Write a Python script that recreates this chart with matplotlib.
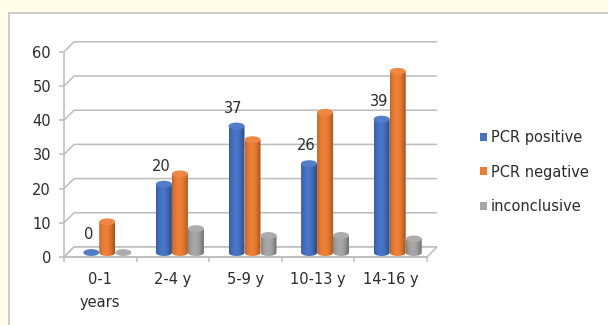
import matplotlib
matplotlib.use("Agg")
import matplotlib.pyplot as plt
import numpy as np
from matplotlib.patches import Ellipse, Patch, PathPatch, Polygon, Rectangle
from matplotlib.path import Path
from matplotlib.colors import to_rgb

categories = ["0-1\nyears", "2-4 y", "5-9 y", "10-13 y", "14-16 y"]
series_names = ["PCR positive", "PCR negative", "inconclusive"]
pcr_positive = [0, 20, 37, 26, 39]
pcr_negative = [9, 23, 33, 41, 53]
inconclusive = [0, 7, 5, 5, 4]
y_ticks = [0, 10, 20, 30, 40, 50, 60]

colors = ["#4472c4", "#ed7d31", "#a5a5a5"]
grid_col = "#bcbcbc"
text_col = "#2b2b2b"
FS = 10.5

W, H = 608, 325
plt.rcParams["font.family"] = ["DejaVu Sans"]
fig = plt.figure(figsize=(W / 100, H / 100), dpi=100, facecolor="#fffce8")

# white chart panel
fig.patches.append(Rectangle((9 / W, -0.1), 1.2, 1.1 - 13 / H,
                             transform=fig.transFigure, facecolor="white",
                             edgecolor="#c4c4c4", lw=1.2, zorder=-5))

# axes: front floor edge = x axis, front left edge = y axis
ax = fig.add_axes([64 / W, (H - 257) / H, (427 - 64) / W, (257 - 51.8) / H])
ax.set_zorder(1)
ax.patch.set_visible(False)
n = len(categories)

# depth offset (back wall) in data units
dx, dy = 10 / 72.6, 10 / 3.42

# back wall gridlines + side slant
for v in y_ticks:
    ax.plot([0, dx, n + dx], [v, v + dy, v + dy], color=grid_col, lw=1.1,
            clip_on=False, zorder=1, solid_capstyle="butt")

# floor
floor = Polygon([(0, 0), (n, 0), (n + dx, dy), (dx, dy)], closed=True,
                facecolor="white", edgecolor=grid_col, lw=1.1, clip_on=False, zorder=1)
ax.add_patch(floor)

for s in ["top", "right"]:
    ax.spines[s].set_visible(False)
for s in ["left", "bottom"]:
    ax.spines[s].set_color(grid_col)
    ax.spines[s].set_linewidth(1.1)

ax.set_yticks(y_ticks)
ax.tick_params(axis="y", length=3.6, width=1.1, color=grid_col, pad=5.8,
               labelsize=FS, labelcolor=text_col)
ax.set_xticks(np.arange(n + 1))
ax.set_xticklabels([])
ax.set_xticks(np.arange(n) + 0.5, minor=True)
ax.set_xticklabels(categories, minor=True, linespacing=1.65)
ax.tick_params(axis="x", which="major", length=3.6, width=1.1, color=grid_col)
ax.tick_params(axis="x", which="minor", length=0, pad=11, labelsize=FS,
               labelcolor=text_col)


def shade(color, t):
    base = np.array(to_rgb(color))
    f = 0.8 + 0.28 * np.sin(np.pi * np.clip(t * 1.05, 0, 1)) ** 0.8
    f = f - 0.12 * t
    out = np.empty((1, len(t), 3))
    for i, fi in enumerate(f):
        if fi <= 1:
            out[0, i] = base * fi
        else:
            out[0, i] = base + (1 - base) * (fi - 1)
    return np.clip(out, 0, 1)


def cylinder(xc, w, y0, h, color, eh=2.0):
    x0 = xc - w / 2
    if h > 0:
        th = np.linspace(np.pi, 2 * np.pi, 30)
        arc = np.column_stack([xc + w / 2 * np.cos(th), y0 + eh / 2 * np.sin(th)])
        verts = np.vstack([[x0, y0 + h], arc, [x0 + w, y0 + h], [x0, y0 + h]])
        codes = [Path.MOVETO] + [Path.LINETO] * (len(verts) - 2) + [Path.CLOSEPOLY]
        body = PathPatch(Path(verts, codes), facecolor="none", edgecolor="none",
                         clip_on=False, zorder=3)
        ax.add_patch(body)
        img = shade(color, np.linspace(0, 1, 40))
        im = ax.imshow(img, extent=[x0, x0 + w, y0 - eh / 2, y0 + h],
                       aspect="auto", zorder=3, interpolation="bilinear")
        im.set_clip_path(body)
    top = np.array(to_rgb(color))
    top = top + (1 - top) * 0.08
    ax.add_patch(Ellipse((xc, y0 + h), w, eh, facecolor=top, edgecolor="none",
                         clip_on=False, zorder=4))


bw = 16 / 72.6
shift = 7 / 72.6
base = 1.3
all_series = [pcr_positive, pcr_negative, inconclusive]
for j, vals in enumerate(all_series):
    for i, v in enumerate(vals):
        xc = i + 0.5 + shift + (j - 1) * bw
        cylinder(xc, bw, base, v, colors[j])

# data labels on PCR positive
for i, v in enumerate(pcr_positive):
    xc = i + 0.5 + shift - bw - 0.04
    ax.text(xc, v + 6.5, str(v), ha="center", va="center", fontsize=FS,
            color=text_col, clip_on=False, zorder=5)

ax.set_xlim(0, n)
ax.set_ylim(0, 60)

handles = [Patch(facecolor=c, edgecolor="none") for c in colors]
fig.legend(handles, series_names, loc="center left",
           bbox_to_anchor=(480 / W, 1 - 172 / H), frameon=False,
           fontsize=FS, labelcolor=text_col, handlelength=0.45, handleheight=0.45,
           handletextpad=0.3, labelspacing=1.35, borderpad=0, borderaxespad=0)

fig.savefig("out.png", dpi=100, facecolor=fig.get_facecolor())
